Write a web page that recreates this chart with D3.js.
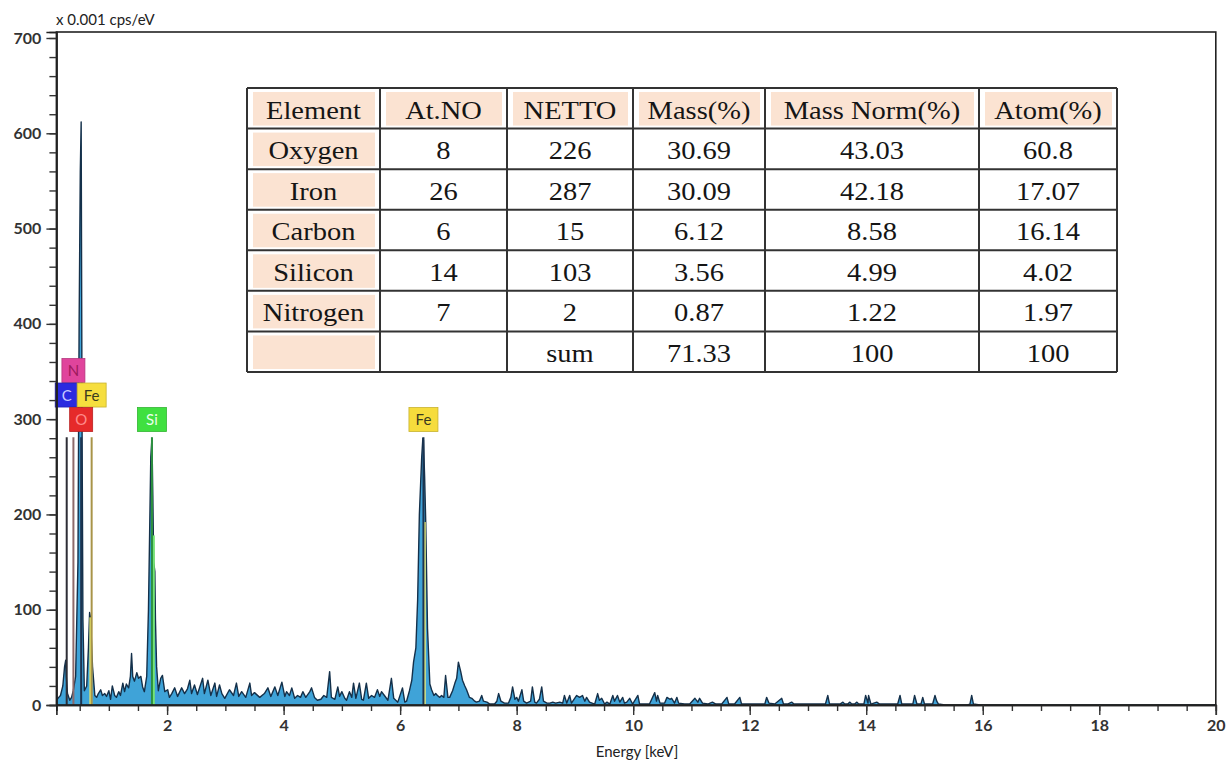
<!DOCTYPE html>
<html><head><meta charset="utf-8">
<script src="https://cdn.jsdelivr.net/npm/d3@7"></script>
<style>body{margin:0;background:#fff}svg{display:block}</style>
</head><body>
<svg id="chart" width="1226" height="766"></svg>
<script>
// ---------- DATA ----------
const spectrum = [
[0.10,5],[0.14,8],[0.17,10],[0.21,20],[0.24,40],[0.26,47],[0.27,30],[0.29,12],[0.33,5],[0.36,8],
[0.39,15],[0.43,30],[0.47,150],[0.49,400],[0.51,560],[0.525,612],[0.54,300],[0.555,90],[0.58,15],[0.62,20],
[0.65,60],[0.67,97],[0.69,90],[0.70,70],[0.72,40],[0.76,10],[0.79,8],[0.82,12],[0.86,16],[0.89,10],
[0.93,12],[0.96,9],[1.00,15],[1.03,6],[1.06,20],[1.10,10],[1.13,8],[1.17,14],[1.20,10],[1.24,23],
[1.27,14],[1.30,22],[1.34,18],[1.37,30],[1.39,54],[1.41,30],[1.44,25],[1.48,34],[1.51,28],[1.55,30],
[1.58,19],[1.61,14],[1.65,30],[1.68,100],[1.70,180],[1.72,260],[1.74,280],[1.755,220],[1.77,150],[1.79,140],
[1.80,90],[1.82,40],[1.85,15],[1.89,28],[1.92,31],[1.96,14],
[2.01,16],[2.04,8],[2.08,12],[2.13,18],[2.18,9],[2.25,18],[2.30,12],[2.35,17],[2.39,26],[2.42,12],
[2.47,21],[2.52,11],[2.61,28],[2.64,12],[2.70,26],[2.75,10],[2.82,23],[2.85,9],[2.90,21],[2.94,12],
[2.99,7],[3.07,16],[3.14,10],[3.19,23],[3.23,9],[3.28,14],[3.35,8],[3.42,23],[3.45,10],[3.50,13],
[3.59,8],[3.67,12],[3.73,18],[3.78,9],[3.85,19],[3.90,10],[3.97,24],[4.02,9],[4.05,14],[4.10,10],
[4.14,18],[4.19,7],[4.24,10],[4.29,8],[4.33,14],
[4.38,8],[4.45,14],[4.48,18],[4.53,8],[4.58,5],[4.64,6],[4.69,10],[4.74,8],[4.79,35],[4.82,8],
[4.88,6],[4.93,19],[4.96,9],[5.00,14],[5.05,7],[5.08,5],[5.13,14],[5.17,8],[5.20,23],[5.24,7],
[5.30,23],[5.34,6],[5.37,5],[5.42,23],[5.46,7],[5.51,10],[5.56,8],[5.61,16],[5.65,9],[5.68,14],
[5.73,10],[5.79,5],[5.85,28],[5.89,7],[5.96,3],[6.04,18],[6.08,3],[6.11,4],[6.16,15],[6.20,26],
[6.23,45],[6.27,60],[6.30,110],[6.33,200],[6.37,260],[6.39,280],[6.40,278],[6.42,240],[6.44,190],[6.47,80],
[6.51,22],[6.54,16],[6.58,10],[6.61,12],[6.64,10],[6.68,8],[6.71,10],[6.75,8],[6.78,31],[6.82,8],
[6.85,8],[6.90,15],[6.94,23],[6.97,28],[7.00,45],[7.04,35],[7.07,26],[7.11,20],[7.14,16],[7.19,8],
[7.23,7],[7.28,4],[7.31,3],[7.36,4],[7.40,10],[7.43,4],[7.49,3],[7.54,1],[7.62,1],[7.66,4],
[7.69,12],[7.73,4],[7.79,2],[7.86,2],[7.90,8],[7.93,19],[7.97,6],[8.00,8],[8.03,4],[8.09,16],
[8.12,4],[8.17,2],[8.24,4],[8.27,19],[8.31,3],[8.34,2],[8.39,6],[8.43,19],[8.46,4],[8.52,2],
[8.57,2],[8.62,3],[8.67,2],[8.74,3],[8.79,2],[8.82,10],[8.86,2],[8.91,10],[8.94,2],[9.03,10],
[9.08,8],[9.13,10],[9.17,4],[9.20,8],[9.25,3],[9.34,1],[9.39,12],[9.42,5],[9.46,7],[9.51,1],
[9.55,3],[9.60,1],[9.65,10],[9.68,4],[9.73,10],[9.77,3],[9.82,8],[9.85,2],[9.89,3],[9.94,7],
[9.99,1],[10.08,10],[10.11,1],[10.16,1],[10.28,1],[10.37,13],[10.40,4],[10.42,10],[10.46,2],[10.54,2],
[10.58,8],[10.63,6],[10.66,7],[10.71,2],[10.75,8],[10.78,2],[10.88,1],[10.97,1],[11.06,7],[11.11,3],
[11.14,7],[11.19,2],[11.28,1],[11.36,3],[11.42,1],[11.52,1],[11.61,8],[11.64,1],[11.74,1],[11.83,8],
[11.86,1],[12.00,1],[12.17,1],[12.26,1],[12.29,8],[12.33,2],[12.43,1],[12.55,7],[12.58,1],[12.65,1],
[12.72,3],[12.76,1],[13.20,1],[13.30,1],[13.34,10],[13.37,1],[13.55,1],[13.60,3],[13.63,1],[13.68,1],
[13.72,3],[13.75,1],[13.80,1],[13.84,3],[13.87,1],[13.96,1],[13.99,10],[14.03,2],[14.04,10],[14.08,1],
[14.18,3],[14.23,1],[14.54,1],[14.58,10],[14.61,1],[14.80,1],[14.83,10],[14.87,1],[14.94,1],[14.97,8],
[15.00,1],[15.14,1],[15.18,10],[15.21,4],[15.24,1],[15.35,0],[15.74,0],[15.78,1],[15.81,10],[15.84,1],
[15.95,0],[20.00,0]
];

const yTickValues = [0,100,200,300,400,500,600,700];
const xTickValues = [2,4,6,8,10,12,14,16,18,20];

// element marker lines (energy in keV, top in counts)
const markerEl    = ['C','N','O','Fe L','Si','Fe K'];
const markerKeV   = [0.277,0.392,0.525,0.705,1.74,6.40];
const markerTop   = [281,281,281,281,281,281];
const markerColor = ['#2e2e36','#8e6a6a','#1c3450','#a89448','#2c9040','#1c3450'];

// element fit highlights inside peaks
const fitKeV   = [0.69,1.765,6.415];
const fitTop   = [92,178,192];
const fitColor = ['#e6e66a','#74e474','#f0f07a'];

// label boxes
const labelText  = ['N','C','Fe','O','Si','Fe'];
const labelKeV   = [0.392,0.277,0.705,0.525,1.74,6.40];
const labelLevel = [2,1,1,0,0,0];
const labelFill  = ['#e0449c','#2a2ae0','#f6de3e','#e62a2a','#40e040','#f6dc3c'];
const labelInk   = ['#9c1a5c','#c8c8ff','#3a3a20','#ff8a8a','#eaffea','#3a3a20'];

// table
const tableHeaders = ['Element','At.NO','NETTO','Mass(%)','Mass Norm(%)','Atom(%)'];
const colElement = ['Oxygen','Iron','Carbon','Silicon','Nitrogen',''];
const colAtNo    = ['8','26','6','14','7',''];
const colNetto   = ['226','287','15','103','2','sum'];
const colMass    = ['30.69','30.09','6.12','3.56','0.87','71.33'];
const colMassN   = ['43.03','42.18','8.58','4.99','1.22','100'];
const colAtom    = ['60.8','17.07','16.14','4.02','1.97','100'];

// ---------- CHART ----------
const svg = d3.select('#chart');
const x = d3.scaleLinear().domain([0.1,20]).range([56.4,1215.8]);
const y = d3.scaleLinear().domain([0,706.3]).range([705,32]);
const sans = 'Lato, "Open Sans", sans-serif';

// spectrum area
const area = d3.area().x(d=>x(d[0])).y0(y(0)).y1(d=>y(d[1]));
const line = d3.line().x(d=>x(d[0])).y(d=>y(d[1]));
svg.append('path').datum(spectrum).attr('d',area).attr('fill','#3fa3d8');
svg.append('path').datum(spectrum).attr('d',line).attr('fill','none')
   .attr('stroke','#14304a').attr('stroke-width',1.4).attr('stroke-linejoin','round');

// fit highlights
svg.selectAll('line.fit').data(fitKeV).join('line').attr('class','fit')
  .attr('x1',d=>x(d)).attr('x2',d=>x(d)).attr('y1',y(0)).attr('y2',(d,i)=>y(fitTop[i]))
  .attr('stroke',(d,i)=>fitColor[i]).attr('stroke-width',2.8);

// marker lines
svg.selectAll('line.mk').data(markerKeV).join('line').attr('class','mk')
  .attr('x1',d=>x(d)).attr('x2',d=>x(d)).attr('y1',y(0)).attr('y2',(d,i)=>y(markerTop[i]))
  .attr('stroke',(d,i)=>markerColor[i]).attr('stroke-width',2);

// label boxes
const boxH = 24;
const lab = svg.selectAll('g.lab').data(labelText).join('g').attr('class','lab');
lab.each(function(t,i){
  const g = d3.select(this);
  const w = t.length>1 ? 29 : 23;
  const cx = x(labelKeV[i]);
  const bottom = y(287) - labelLevel[i]*24.5;
  g.append('rect').attr('x',cx-w/2).attr('y',bottom-boxH).attr('width',w).attr('height',boxH)
    .attr('fill',labelFill[i]).attr('stroke',d3.color(labelFill[i]).darker(0.6)).attr('stroke-width',0.8);
  g.append('text').attr('x',cx).attr('y',bottom-6.5).attr('text-anchor','middle')
    .attr('font-family',sans).attr('font-size',15).attr('fill',labelInk[i]).text(t);
});

// frame
svg.append('rect').attr('x',x(0.1)).attr('y',y(706.3)).attr('width',x(20)-x(0.1)).attr('height',y(0)-y(706.3))
  .attr('fill','none').attr('stroke','#222').attr('stroke-width',1.6);

// axes
const yMinor = svg.append('g').attr('transform',`translate(${x(0.1)},0)`)
  .call(d3.axisLeft(y).tickValues(d3.range(0,701,20)).tickSize(7).tickFormat(''));
const yAxis = svg.append('g').attr('transform',`translate(${x(0.1)},0)`)
  .call(d3.axisLeft(y).tickValues(yTickValues).tickSize(10).tickPadding(5));
const xMinor = svg.append('g').attr('transform',`translate(0,${y(0)})`)
  .call(d3.axisBottom(x).tickValues(d3.range(0.5,20,0.5)).tickSize(6).tickFormat(''));
const xAxis = svg.append('g').attr('transform',`translate(0,${y(0)})`)
  .call(d3.axisBottom(x).tickValues(xTickValues).tickSize(10).tickPadding(5));
[yMinor,yAxis,xMinor,xAxis].forEach(g=>{
  g.select('.domain').attr('stroke','#222').attr('stroke-width',1.6);
  g.selectAll('.tick line').attr('stroke','#333').attr('stroke-width',1.4);
  g.selectAll('.tick text').attr('font-family',sans).attr('font-size',16)
    .attr('font-weight','bold').attr('fill','#333');
});

// axis titles
svg.append('text').attr('x',56).attr('y',25).attr('font-family',sans).attr('font-size',15)
  .attr('fill','#222').text('x 0.001 cps/eV');
svg.append('text').attr('x',637).attr('y',757).attr('text-anchor','middle').attr('font-family',sans)
  .attr('font-size',15).attr('fill','#222').text('Energy [keV]');

// ---------- TABLE ----------
const colEdges = [247,380,507,633,765,979,1117];
const rowTop = 88, rowH = 40.57;
const columns = [colElement,colAtNo,colNetto,colMass,colMassN,colAtom];
const nRows = colElement.length + 1;
const tg = svg.append('g');
tg.append('rect').attr('x',colEdges[0]).attr('y',rowTop).attr('width',colEdges[6]-colEdges[0])
  .attr('height',rowH*nRows).attr('fill','#fff');
// shading
for(let r=0;r<nRows;r++){
  for(let c=0;c<6;c++){
    if(r===0 || c===0){
      tg.append('rect').attr('x',colEdges[c]+6).attr('y',rowTop+r*rowH+4)
        .attr('width',colEdges[c+1]-colEdges[c]-11).attr('height',rowH-7).attr('fill','#fbe3d2');
    }
  }
}
// texts
const cellText = (r,c)=> r===0 ? tableHeaders[c] : columns[c][r-1];
for(let r=0;r<nRows;r++){
  for(let c=0;c<6;c++){
    const t = cellText(r,c); if(!t) continue;
    const cx = (colEdges[c]+colEdges[c+1])/2, by = rowTop+r*rowH+30.5;
    tg.append('text').attr('transform',`translate(${cx},${by}) scale(1.14,1)`)
      .attr('text-anchor','middle').attr('font-family','"Liberation Serif","Times New Roman",serif')
      .attr('font-size',25).attr('fill','#151515').text(t);
  }
}
// grid lines
for(let r=0;r<=nRows;r++){
  tg.append('line').attr('x1',colEdges[0]).attr('x2',colEdges[6]).attr('y1',rowTop+r*rowH).attr('y2',rowTop+r*rowH)
    .attr('stroke','#333').attr('stroke-width',2);
}
colEdges.forEach(cx=>{
  tg.append('line').attr('x1',cx).attr('x2',cx).attr('y1',rowTop).attr('y2',rowTop+nRows*rowH)
    .attr('stroke','#333').attr('stroke-width',2);
});
</script>
</body></html>
